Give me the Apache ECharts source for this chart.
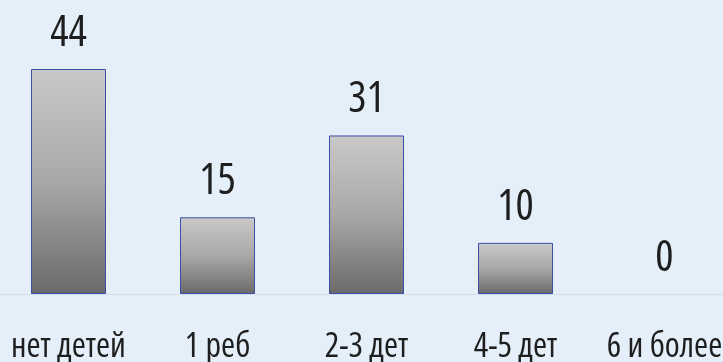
<!DOCTYPE html>
<html><head><meta charset="utf-8">
<script src="https://cdn.jsdelivr.net/npm/echarts@6/dist/echarts.min.js"></script>
<style>html,body{margin:0;padding:0;background:#e5eff9;}#c{width:723px;height:362px;}</style>
</head><body><div id="c"></div>
<script>
const categories = ['нет детей', '1 реб', '2-3 дет', '4-5 дет', '6 и более'];
const values = [44, 15, 31, 10, 0];
const FONT = '"Open Sans", sans-serif';
const STRETCH = 'ultra-condensed';
const chart = echarts.init(document.getElementById('c'));
chart.setOption({
  backgroundColor: '#e5eff9',
  animation: false,
  grid: { left: -6, right: -16, top: 69, bottom: 68, containLabel: false, outerBoundsMode: 'none' },
  xAxis: {
    type: 'category', data: categories,
    axisLine: { show: true, lineStyle: { color: '#d3dde9', width: 1 } },
    axisTick: { show: false },
    axisLabel: { interval: 0, color: '#1e1e1e', fontFamily: FONT, fontWeight: STRETCH, fontSize: 34, margin: 36 }
  },
  yAxis: { type: 'value', min: 0, max: 44, show: false, splitLine: { show: false } },
  series: [{
    type: 'bar', barWidth: 75,
    data: values.map(v => ({ value: v, itemStyle: v === 0 ? { borderWidth: 0 } : {} })),
    itemStyle: {
      color: new echarts.graphic.LinearGradient(0, 0, 0, 1, [
        { offset: 0, color: '#c9c9c9' },
        { offset: 0.5, color: '#a8a8a8' },
        { offset: 1, color: '#6a6a6a' }
      ]),
      borderColor: '#3a4ea8', borderWidth: 1
    },
    label: { show: true, position: 'top', distance: 14, color: '#1e1e1e', fontFamily: FONT, fontWeight: STRETCH, fontSize: 43 }
  }]
});
</script></body></html>
